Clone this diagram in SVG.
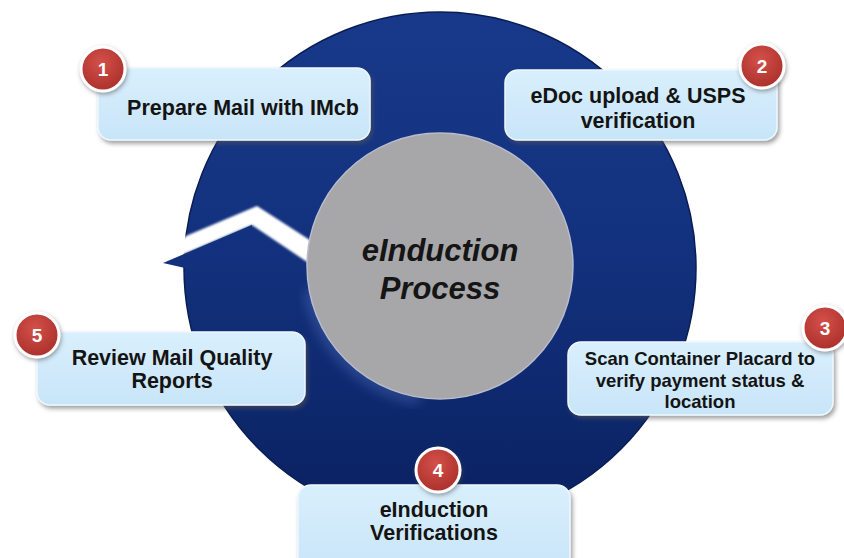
<svg xmlns="http://www.w3.org/2000/svg" width="844" height="558" viewBox="0 0 844 558">
<style>
.box{fill:url(#boxGrad);stroke:#eef7fe;stroke-width:1.5;filter:url(#shadow)}
.lbl{font-family:"Liberation Sans",Arial,sans-serif;font-weight:bold;font-size:21.5px;fill:#141414;text-anchor:middle}
.badge{fill:url(#redGrad);stroke:#ffffff;stroke-width:3;filter:url(#bshadow)}
.num{font-family:"Liberation Sans",Arial,sans-serif;font-weight:bold;font-size:19px;fill:#ffffff;text-anchor:middle}
.center{font-family:"Liberation Sans",Arial,sans-serif;font-weight:bold;font-style:italic;font-size:31px;fill:#151515;text-anchor:middle}
</style>
<defs>
<linearGradient id="ringGrad" gradientUnits="userSpaceOnUse" x1="0" y1="12" x2="0" y2="524">
<stop offset="0" stop-color="#18398a"/>
<stop offset="0.5" stop-color="#12307c"/>
<stop offset="1" stop-color="#0a2160"/>
</linearGradient>
<linearGradient id="boxGrad" x1="0" y1="0" x2="0" y2="1">
<stop offset="0" stop-color="#d9effd"/>
<stop offset="1" stop-color="#c8e5f8"/>
</linearGradient>
<radialGradient id="redGrad" cx="0.45" cy="0.35" r="0.7">
<stop offset="0" stop-color="#d4504a"/>
<stop offset="1" stop-color="#a82e29"/>
</radialGradient>
<filter id="shadow" x="-10%" y="-10%" width="125%" height="135%">
<feDropShadow dx="2" dy="3" stdDeviation="2" flood-color="#555" flood-opacity="0.55"/>
</filter>
<filter id="bshadow" x="-30%" y="-30%" width="170%" height="170%">
<feDropShadow dx="1" dy="2" stdDeviation="2" flood-color="#444" flood-opacity="0.5"/>
</filter>
<filter id="blur6"><feGaussianBlur stdDeviation="6"/></filter>
<filter id="blur1"><feGaussianBlur stdDeviation="0.8"/></filter>
</defs>

<g id="ring">
<circle cx="440" cy="268" r="256" fill="url(#ringGrad)" stroke="#0a1d52" stroke-width="1.5"/>
<path d="M 310 290 A 134 134 0 0 0 420 398" fill="none" stroke="#5f80cc" stroke-width="14" opacity="0.35" filter="url(#blur6)"/>
<polygon points="186,236 257,206 316,244 316,268 252,225 163,263" fill="#ffffff" filter="url(#blur1)"/>
<polygon points="163,263 252,225 252,240 200,268 185,268" fill="url(#ringGrad)"/>
</g>

<g id="center-node">
<circle cx="440" cy="266" r="133" fill="#a7a7a9" stroke="#b8bccc" stroke-width="1.5"/>
<text class="center" x="440" y="261">eInduction</text>
<text class="center" x="440" y="299">Process</text>
</g>

<g id="connectors"></g>

<g id="step1">
<rect class="box" x="98" y="68" width="272" height="72" rx="13"/>
<text class="lbl" x="243" y="115">Prepare Mail with IMcb</text>
<circle class="badge" cx="103" cy="69" r="22"/>
<text class="num" x="103" y="76">1</text>
</g>

<g id="step2">
<rect class="box" x="505" y="70" width="272" height="70" rx="13"/>
<text class="lbl" x="638" y="103">eDoc upload &amp; USPS</text>
<text class="lbl" x="638" y="128">verification</text>
<circle class="badge" cx="762" cy="66" r="22"/>
<text class="num" x="762" y="73">2</text>
</g>

<g id="step3">
<rect class="box" x="568" y="342" width="265" height="73" rx="13"/>
<text class="lbl" x="700" y="365" style="font-size:18.5px">Scan Container Placard to</text>
<text class="lbl" x="700" y="387" style="font-size:18.5px">verify payment status &amp;</text>
<text class="lbl" x="700" y="408" style="font-size:18.5px">location</text>
<circle class="badge" cx="825" cy="328" r="22"/>
<text class="num" x="825" y="335">3</text>
</g>

<g id="step4">
<rect class="box" x="298" y="485" width="272" height="85" rx="13"/>
<text class="lbl" x="434" y="517">eInduction</text>
<text class="lbl" x="434" y="540">Verifications</text>
<circle class="badge" cx="438" cy="470" r="22"/>
<text class="num" x="438" y="477">4</text>
</g>

<g id="step5">
<rect class="box" x="37" y="332" width="268" height="73" rx="13"/>
<text class="lbl" x="172" y="365">Review Mail Quality</text>
<text class="lbl" x="172" y="388">Reports</text>
<circle class="badge" cx="37" cy="335" r="22"/>
<text class="num" x="37" y="342">5</text>
</g>
</svg>
